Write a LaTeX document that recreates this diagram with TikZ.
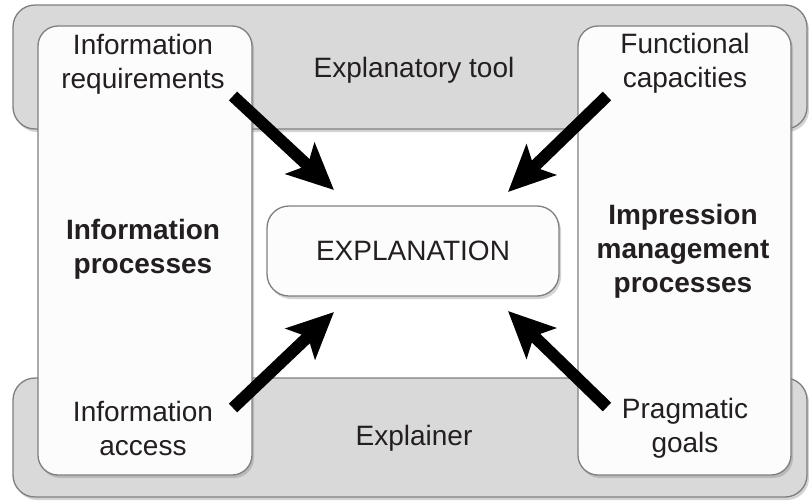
\documentclass[tikz,border=0pt]{standalone}
\usepackage{fontspec}
\setmainfont{Liberation Sans}
\usetikzlibrary{arrows.meta,shadows}
\definecolor{bandfill}{HTML}{D9D9D9}
\definecolor{edgegray}{HTML}{7F7F7F}
\definecolor{boxfill}{HTML}{FCFCFC}
\definecolor{ink}{HTML}{231F20}
\begin{document}
\begin{tikzpicture}[x=1pt,y=-1pt,
  band/.style={draw=edgegray,line width=1.3pt,fill=bandfill,rounded corners=22pt,
    drop shadow={shadow xshift=2pt,shadow yshift=-3pt,opacity=0.35}},
  sidebox/.style={draw=edgegray,line width=1.3pt,fill=boxfill,rounded corners=20pt,
    drop shadow={shadow xshift=2pt,shadow yshift=-3pt,opacity=0.35}},
  centerbox/.style={draw=edgegray,line width=1.3pt,fill=boxfill,rounded corners=22pt,
    drop shadow={shadow xshift=2pt,shadow yshift=-3pt,opacity=0.35}},
  lbl/.style={text=ink,align=center,font=\fontsize{28}{34}\selectfont,inner sep=0pt},
  blbl/.style={lbl,font=\fontsize{28}{34}\selectfont\bfseries},
  bigarrow/.style={draw=black,line width=12pt,
    -{Stealth[length=46pt,width=42pt,inset=10pt]}}
]
\useasboundingbox (0,0) rectangle (809,501);
% bands
\path[band] (13,5) rectangle (807,129);
\path[band] (13,378) rectangle (807,497);
% side boxes
\path[sidebox] (38,26) rectangle (252,475);
\path[sidebox] (578,26) rectangle (791,475);
% centre box
\node[centerbox,minimum width=292pt,minimum height=90pt,inner sep=0pt] (expl) at (413,251) {};
\node[lbl] (explt) at (413,251) {EXPLANATION};
% labels
\node[lbl] (ireq) at (143,64) {Information\\requirements};
\node[lbl] (tool) at (414,70) {Explanatory tool};
\node[lbl] (func) at (685,63) {Functional\\capacities};
\node[blbl] (iproc) at (143,249) {Information\\processes};
\node[blbl] (impr) at (683,251) {Impression\\management\\processes};
\node[lbl] (iacc) at (143,428) {Information\\access};
\node[lbl] (expr) at (414,438) {Explainer};
\node[lbl] (prag) at (685,428) {Pragmatic\\goals};
% arrow ends
\coordinate (a1s) at (233,96);
\coordinate (a1e) at (334,190);
\coordinate (a2s) at (607,96);
\coordinate (a2e) at (508,192);
\coordinate (a3s) at (233,408);
\coordinate (a3e) at (334,312);
\coordinate (a4s) at (607,407);
\coordinate (a4e) at (508,311);
\draw[bigarrow] (a1s) -- (a1e);
\draw[bigarrow] (a2s) -- (a2e);
\draw[bigarrow] (a3s) -- (a3e);
\draw[bigarrow] (a4s) -- (a4e);
\end{tikzpicture}
\end{document}
